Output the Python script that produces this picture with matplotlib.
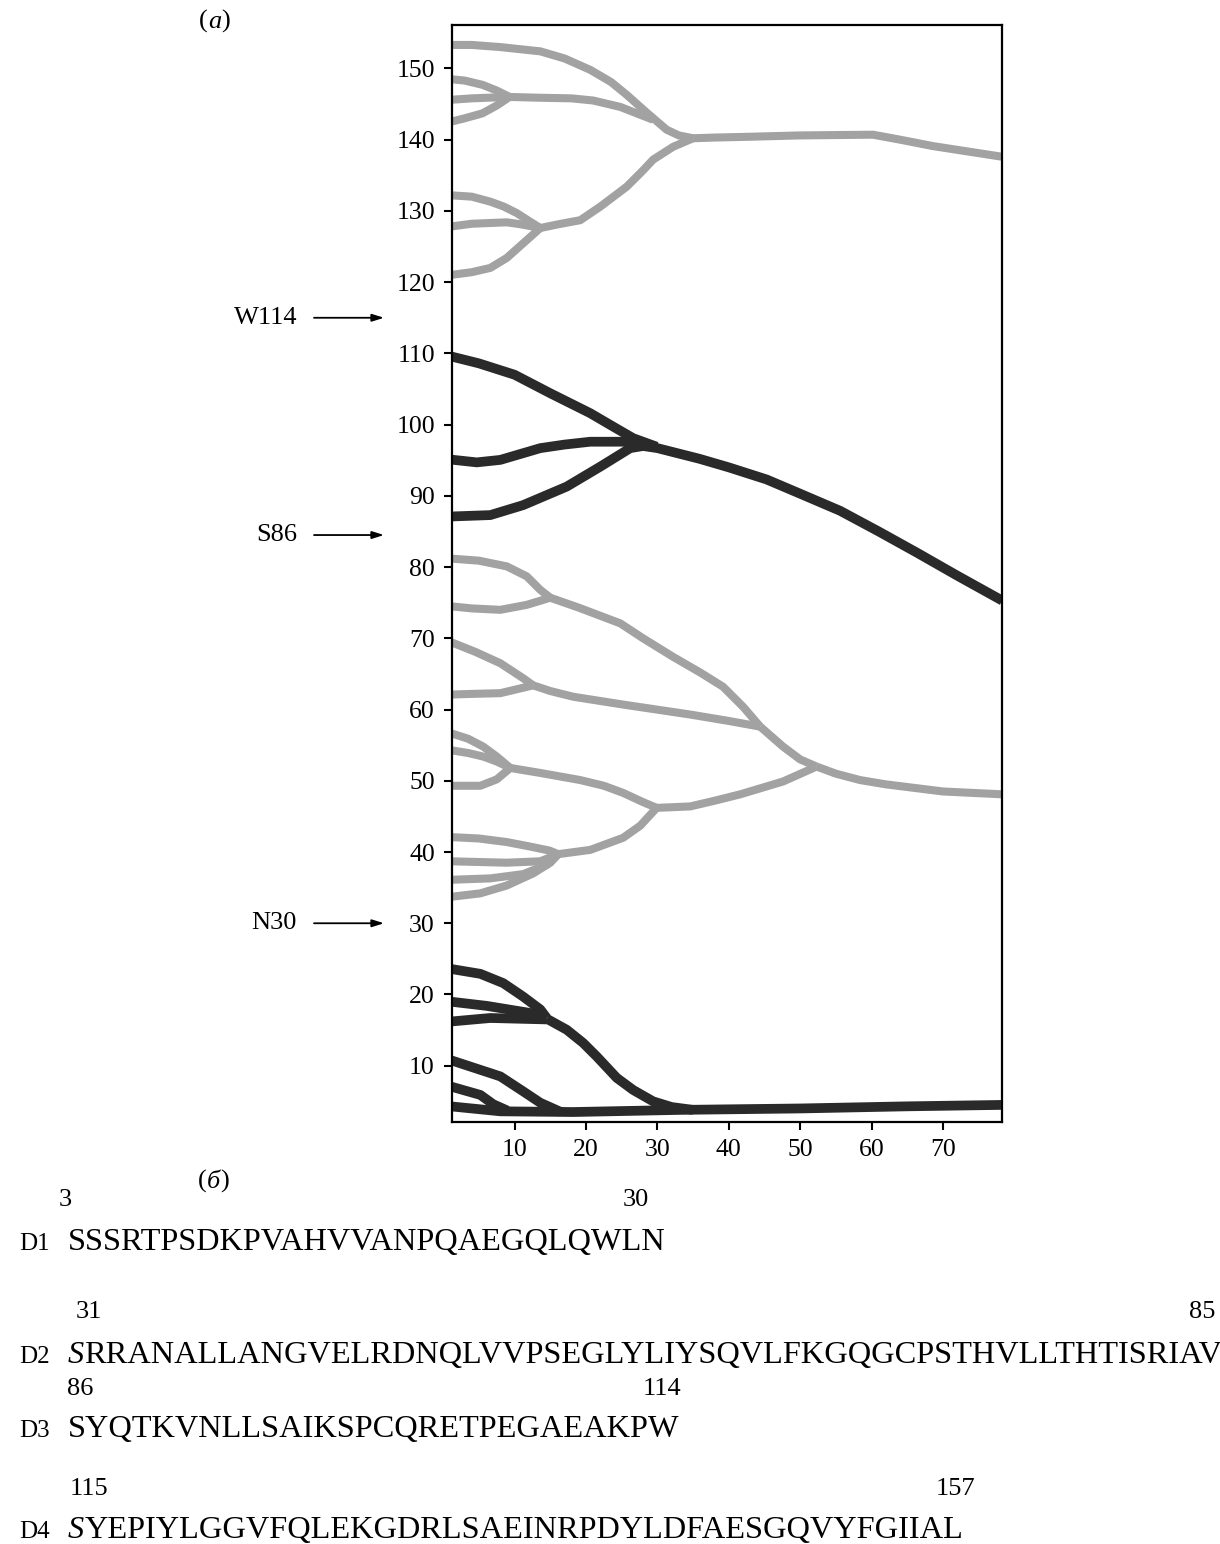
import matplotlib
matplotlib.use("Agg")
import matplotlib.pyplot as plt
from matplotlib.transforms import blended_transform_factory

plt.rcParams['font.family'] = ['Liberation Serif', 'DejaVu Serif']

# gray branches (domain D2 / D4), points as (position, residue)
g_top153 = [(1, 153.3), (4, 153.3), (8, 153.0), (13.6, 152.4), (17, 151.4), (20.6, 149.8), (23.5, 148.1), (25.7, 146.3), (28.5, 143.8), (31.3, 141.4), (33, 140.6), (35, 140.2)]
g_148 = [(1, 148.5), (3, 148.3), (5.5, 147.7), (7.5, 146.9), (9.3, 146.0)]
g_145 = [(1, 145.6), (4, 145.8), (6.5, 145.9), (9.3, 146.0)]
g_142 = [(1, 142.5), (3, 143.0), (5.5, 143.7), (7.5, 144.8), (9.3, 146.0)]
g_146_join = [(9.3, 146.0), (13, 145.9), (18, 145.8), (21, 145.5), (24.8, 144.6), (27.6, 143.5), (29.4, 142.8)]
g_132 = [(1, 132.2), (4, 132.0), (6.6, 131.3), (8.5, 130.6), (10.3, 129.7), (12, 128.6), (13.6, 127.6)]
g_128 = [(1, 127.8), (4, 128.2), (8.9, 128.4), (11, 128.1), (13.6, 127.6)]
g_121 = [(1, 121.0), (4, 121.4), (6.6, 122.0), (8.9, 123.4), (11.7, 125.9), (13.6, 127.6)]
g_128_join = [(13.6, 127.6), (16, 128.1), (19.2, 128.7), (22, 130.6), (25.7, 133.4), (28, 135.7), (29.4, 137.2), (32.2, 139.0), (35, 140.2)]
g_140_trunk = [(35, 140.2), (38, 140.3), (42.5, 140.4), (50, 140.6), (60.2, 140.7), (64, 140.0), (68.6, 139.1), (78.3, 137.6)]

g_81 = [(1, 81.2), (5, 80.9), (8.9, 80.1), (11.7, 78.7), (13.6, 76.8), (15, 75.7)]
g_74 = [(1, 74.5), (4, 74.2), (8, 74.0), (11.7, 74.7), (15, 75.7)]
g_75_join = [(15, 75.7), (19, 74.3), (24.8, 72.1), (28, 70.0), (32.2, 67.4), (36, 65.2), (39.2, 63.2), (42, 60.4), (44.4, 57.6)]
g_70 = [(1, 69.5), (4.5, 68.1), (8, 66.5), (11.2, 64.4), (12.6, 63.4)]
g_62 = [(1, 62.1), (4, 62.2), (8, 62.3), (12.6, 63.4)]
g_63_join = [(12.6, 63.4), (15, 62.6), (18.2, 61.8), (25.2, 60.7), (34.6, 59.3), (40, 58.4), (44.4, 57.6)]
g_58_join = [(44.4, 57.6), (47.6, 54.8), (50, 53.0), (52.3, 52.0)]
g_52_trunk = [(52.3, 52.0), (55, 51.0), (58.4, 50.1), (62, 49.5), (66, 49.0), (70, 48.5), (78.3, 48.1)]
g_57 = [(1, 56.7), (3.5, 55.9), (5.6, 54.8), (7.5, 53.4), (9.4, 51.8)]
g_54 = [(1, 54.3), (3.5, 53.9), (5.6, 53.4), (7.5, 52.7), (9.4, 51.8)]
g_49 = [(1, 49.3), (3, 49.3), (5.2, 49.3), (7.5, 50.2), (9.4, 51.8)]
g_52_join = [(9.4, 51.8), (13.6, 51.1), (19.2, 50.1), (22.5, 49.3), (25.2, 48.3), (28, 47.0), (29.9, 46.2)]
g_46_join = [(29.9, 46.2), (34.6, 46.4), (38, 47.2), (41.6, 48.1), (47.6, 49.9), (52.3, 52.0)]
g_42 = [(1, 42.1), (5, 41.9), (8.9, 41.4), (12, 40.8), (14.9, 40.2), (16.1, 39.7)]
g_39 = [(1, 38.7), (5, 38.6), (8.9, 38.5), (13.6, 38.7), (16.1, 39.7)]
g_36 = [(1, 36.1), (6.6, 36.3), (11.2, 36.9), (14.5, 38.2), (16.1, 39.7)]
g_34 = [(1, 33.7), (5.2, 34.2), (8.9, 35.3), (12.6, 37.0), (15, 38.5), (16.1, 39.7)]
g_40_join = [(16.1, 39.7), (20.6, 40.3), (25.2, 42.0), (27.6, 43.7), (29.9, 46.2)]

# dark branches (domains D1 / D3)
d_110 = [(1, 109.6), (5, 108.6), (10, 107.0), (15, 104.4), (20.6, 101.6), (23.5, 99.9), (26.6, 98.1), (29.9, 96.9)]
d_95 = [(1, 95.1), (4.7, 94.7), (8, 95.05), (13.6, 96.7), (17, 97.2), (20.6, 97.6), (25.2, 97.6), (27.6, 97.2)]
d_87 = [(1, 87.1), (6.6, 87.3), (11.2, 88.7), (17.3, 91.3), (22, 94.1), (26.2, 96.7), (28, 97.0)]
d_97_trunk = [(28, 97.0), (30, 96.7), (35.9, 95.2), (40, 94.0), (45.3, 92.3), (50, 90.3), (55.6, 87.9), (61, 85.0), (66.4, 82.0), (72, 78.8), (78.3, 75.3)]
d_24 = [(1, 23.6), (5.2, 22.9), (8.4, 21.6), (11.2, 19.7), (13.6, 17.9), (14.5, 16.7)]
d_19 = [(1, 19.0), (6.1, 18.4), (12.2, 17.4), (14.5, 16.7)]
d_16 = [(1, 16.2), (6.6, 16.7), (14.5, 16.5)]
d_17_join = [(14.5, 16.6), (17.3, 15.05), (19.6, 13.2), (21.5, 11.3), (24.3, 8.3), (26.6, 6.6), (29.4, 5.0), (32, 4.2), (35, 3.8)]
d_11 = [(1, 10.8), (8, 8.5), (11.2, 6.4), (13.6, 4.8), (16.5, 3.5)]
d_7 = [(1, 7.1), (5.2, 5.9), (7, 4.6), (9, 3.7)]
d_4_trunk = [(1, 4.3), (8, 3.6), (18.2, 3.5), (33.2, 3.8), (50, 4.0), (65, 4.3), (78.3, 4.5)]

gray_branches = [g_top153, g_148, g_145, g_142, g_146_join, g_132, g_128, g_121, g_128_join, g_140_trunk,
                 g_81, g_74, g_75_join, g_70, g_62, g_63_join, g_58_join, g_52_trunk,
                 g_57, g_54, g_49, g_52_join, g_46_join, g_42, g_39, g_36, g_34, g_40_join]
dark_branches = [d_110, d_95, d_87, d_97_trunk, d_24, d_19, d_16, d_17_join, d_11, d_7, d_4_trunk]

boundary_labels = ['W114', 'S86', 'N30']
boundary_pos = [115, 84.5, 30]

seq_labels = ['D1', 'D2', 'D3', 'D4']
seq_text = ['SSSRTPSDKPVAHVVANPQAEGQLQWLN',
            'SRRANALLANGVELRDNQLVVPSEGLYLIYSQVLFKGQGCPSTHVLLTHTISRIAV',
            'SYQTKVNLLSAIKSPCQRETPEGAEAKPW',
            'SYEPIYLGGVFQLEKGDRLSAEINRPDYLDFAESGQVYFGIIAL']
seq_italic_first = [False, True, False, True]
seq_start = ['3', '31', '86', '115']
seq_end = ['30', '85', '114', '157']

W, H = 1220, 1544
fig = plt.figure(figsize=(W / 100, H / 100), dpi=100)
ax = fig.add_axes([451.5 / W, 1 - 1122 / H, 550 / W, 1097 / H])

for br in gray_branches:
    xs, ys = zip(*br)
    ax.plot(xs, ys, color='#a2a2a2', lw=5.8, solid_capstyle='butt', solid_joinstyle='round')
for br in dark_branches:
    xs, ys = zip(*br)
    ax.plot(xs, ys, color='#2a2a2a', lw=7.0, solid_capstyle='butt', solid_joinstyle='round')

ax.set_xlim(1.16, 78.2)
ax.set_ylim(2.1, 156.1)
ax.set_xticks(range(10, 80, 10))
ax.set_yticks(range(10, 160, 10))
ax.tick_params(direction='out', length=6, width=1.5, labelsize=18.5, pad=6)
for s in ax.spines.values():
    s.set_linewidth(1.6)

trans = blended_transform_factory(fig.transFigure, ax.transData)
for lab, yv in zip(boundary_labels, boundary_pos):
    ax.annotate('', xy=(384 / W, yv), xycoords=trans, xytext=(314 / W, yv), textcoords=trans,
                arrowprops=dict(arrowstyle='-|>,head_length=0.7,head_width=0.22', color='black',
                                lw=1.3, shrinkA=0, shrinkB=0),
                annotation_clip=False)
    ax.text(297 / W, yv, lab, transform=trans, ha='right', va='center', fontsize=19)


def fx(px):
    return px / W


def fy(py):
    return 1 - py / H


def chain(prev, s, **kw):
    return ax.annotate(s, xy=(1, 0), xycoords=prev, ha='left', va='bottom',
                       annotation_clip=False, **kw)


# panel letters
t = fig.text(fx(199), fy(28), '(', fontsize=19, va='baseline')
t = chain(t, 'а', fontsize=19, style='italic')
chain(t, ')', fontsize=19)
t = fig.text(fx(198), fy(1188), '(', fontsize=19, va='baseline')
t = chain(t, 'б', fontsize=19, style='italic')
chain(t, ')', fontsize=19)

# sequences
seq_base = [1250, 1363, 1437, 1538]
num_base = [1206, 1318, 1395, 1495]
start_x = [65, 89, 80, 89]
end_x = [636, 1202, 662, 955]
seq_fs = 23.3
for lab, s, it, base, nb, a, b, sx, ex in zip(seq_labels, seq_text, seq_italic_first, seq_base,
                                               num_base, seq_start, seq_end, start_x, end_x):
    fig.text(fx(19), fy(base), lab, fontsize=18, va='baseline')
    if it:
        t = fig.text(fx(68), fy(base), s[0], fontsize=seq_fs, style='italic', va='baseline')
        chain(t, s[1:], fontsize=seq_fs)
    else:
        fig.text(fx(68), fy(base), s, fontsize=seq_fs, va='baseline')
    fig.text(fx(sx), fy(nb), a, fontsize=19, ha='center', va='baseline')
    fig.text(fx(ex), fy(nb), b, fontsize=19, ha='center', va='baseline')

fig.savefig('out.png', dpi=100)
